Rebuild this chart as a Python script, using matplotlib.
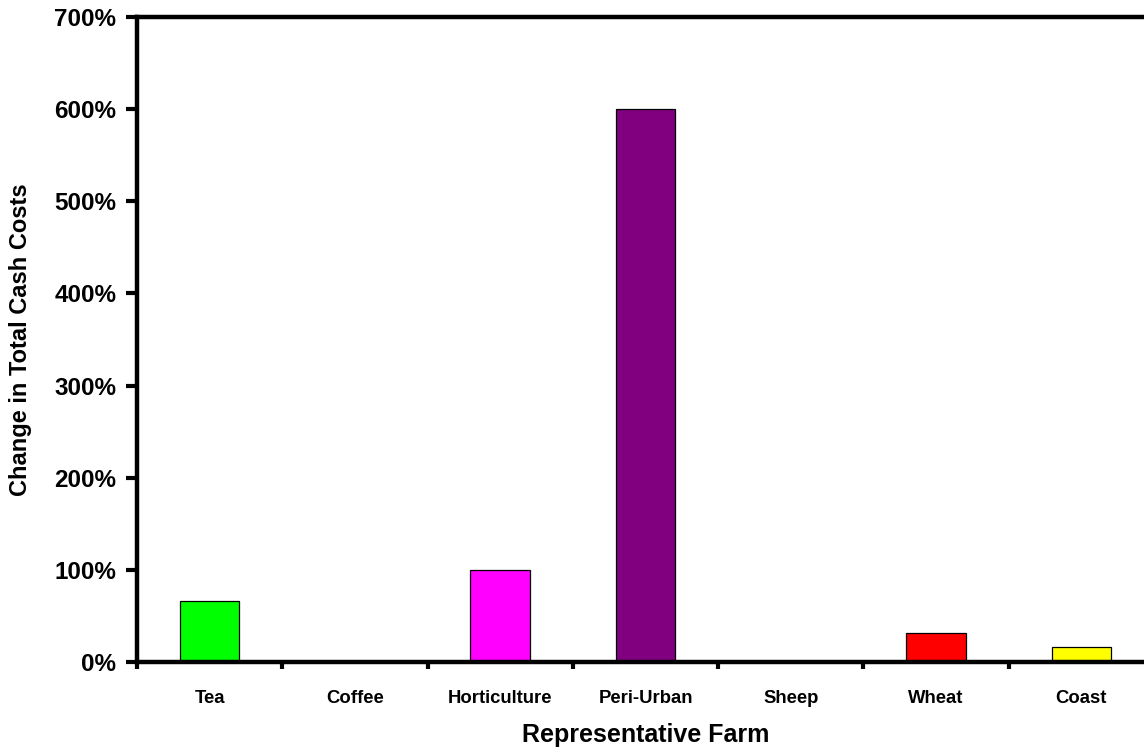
import numpy as np
import matplotlib.pyplot as plt
from matplotlib.ticker import FuncFormatter, MultipleLocator

farms = ["Tea", "Coffee", "Horticulture", "Peri-Urban", "Sheep", "Wheat", "Coast"]
change_pct = [66, 0, 100, 600, 0, 32, 16]
bar_colors = ["#00FF00", "#FFFFFF", "#FF00FF", "#800080", "#FFFFFF", "#FF0000", "#FFFF00"]

plt.rcParams['font.family'] = ['Liberation Sans', 'DejaVu Sans']
plt.rcParams['font.weight'] = 'bold'

fig = plt.figure(figsize=(11.44, 7.49), dpi=100)
# axes run a little past the right edge of the figure
ax = fig.add_axes([137 / 1144, 1 - 662 / 749, 1017 / 1144, 645 / 749])

x = np.arange(len(farms))
ax.bar(x, change_pct, width=0.41, color=bar_colors, edgecolor="black", linewidth=0.9, zorder=2)

ax.set_xlim(-0.5, len(farms) - 0.5)
ax.set_ylim(0, 700)
ax.yaxis.set_major_locator(MultipleLocator(100))
ax.yaxis.set_major_formatter(FuncFormatter(lambda v, _: f"{v:.0f}%"))

ax.set_xticks(x)
ax.set_xticklabels(farms, fontsize=13.3, fontweight="bold")
ax.set_xticks(np.arange(len(farms)) - 0.5, minor=True)
ax.tick_params(axis="x", which="major", length=0, pad=20)
ax.tick_params(axis="x", which="minor", length=5, width=3, direction="out")
ax.tick_params(axis="y", length=8, width=3, pad=7, labelsize=17.5)
for lbl in ax.get_yticklabels():
    lbl.set_fontweight("bold")

for side in ("left", "bottom", "top"):
    ax.spines[side].set_linewidth(3.2)
ax.spines["right"].set_visible(False)

ax.set_xlabel("Representative Farm", fontsize=18, fontweight="bold", labelpad=12)
ax.set_ylabel("Change in Total Cash Costs", fontsize=17, fontweight="bold", labelpad=16)

fig.savefig("out.png", dpi=100)
